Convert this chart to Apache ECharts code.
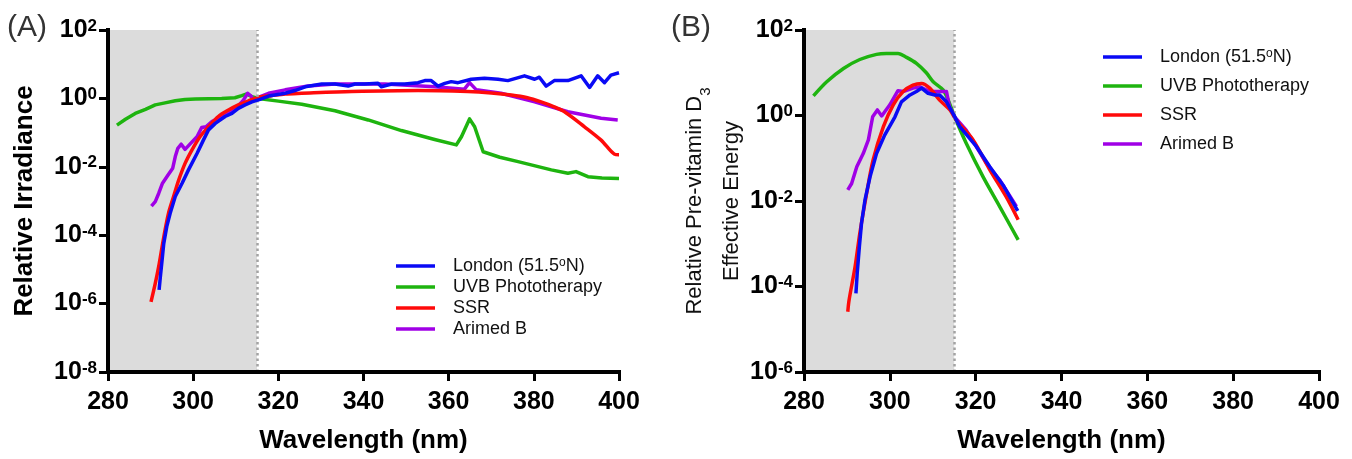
<!DOCTYPE html>
<html><head><meta charset="utf-8">
<script src="https://cdn.jsdelivr.net/npm/echarts@6/dist/echarts.min.js"></script>
<style>html,body{margin:0;padding:0;background:#fff}#c{width:1352px;height:459px}</style>
</head><body><div id="c"></div>
<script>
// ---------- DATA: [wavelength (nm), log10(relative value)] ----------
const seriesNames = ['London (51.5ºN)', 'UVB Phototherapy', 'SSR', 'Arimed B'];
const xTicks = [280, 300, 320, 340, 360, 380, 400];
const uvbBand = [280, 315];

// Panel A: Relative irradiance
const londonA = [[292.0,-5.60],[292.3,-5.21],[292.7,-4.73],[293.1,-4.24],[293.8,-3.75],[294.6,-3.36],[295.8,-2.87],[297.4,-2.48],[298.9,-2.09],[300.9,-1.61],[302.4,-1.22],[303.6,-0.92],[305.2,-0.73],[307.5,-0.53],[309.1,-0.44],[310.6,-0.29],[312.2,-0.19],[313.8,-0.10],[315.7,-0.03],[317.7,0.07],[321.6,0.15],[323.9,0.23],[326.3,0.34],[330.2,0.42],[333.3,0.42],[336.4,0.36],[338.0,0.42],[340.3,0.42],[343.4,0.44],[344.2,0.34],[346.6,0.42],[349.7,0.42],[352.8,0.46],[354.4,0.52],[355.9,0.52],[357.5,0.36],[359.1,0.44],[360.6,0.49],[362.2,0.46],[365.3,0.56],[368.4,0.59],[371.6,0.56],[373.9,0.52],[377.8,0.66],[380.2,0.56],[381.3,0.62],[382.9,0.36],[384.8,0.52],[388.0,0.52],[391.1,0.66],[393.1,0.32],[395.0,0.66],[396.6,0.46],[398.1,0.68],[400.0,0.75]];
const uvbA = [[282.1,-0.78],[284.1,-0.61],[286.4,-0.44],[288.8,-0.32],[291.1,-0.19],[293.4,-0.13],[295.8,-0.07],[298.1,-0.03],[300.5,-0.02],[303.6,-0.01],[306.7,0.0],[309.8,0.02],[311.4,0.08],[312.6,0.13],[313.8,0.05],[315.3,0.0],[320.0,-0.08],[325.5,-0.17],[333.3,-0.36],[341.1,-0.63],[348.9,-0.94],[356.7,-1.20],[361.8,-1.36],[363.0,-1.12],[364.9,-0.60],[366.1,-0.83],[368.1,-1.56],[372.0,-1.72],[376.3,-1.85],[384.1,-2.09],[388.0,-2.19],[389.9,-2.14],[392.7,-2.29],[396.0,-2.33],[400.0,-2.34]];
const ssrA = [[290.1,-5.95],[291.1,-5.41],[291.9,-4.92],[292.7,-4.34],[293.4,-3.85],[294.2,-3.36],[295.4,-2.87],[296.6,-2.39],[298.1,-1.90],[299.7,-1.51],[301.6,-1.12],[303.6,-0.83],[305.9,-0.53],[308.3,-0.34],[310.6,-0.19],[313.0,-0.07],[315.3,0.03],[318.4,0.08],[321.6,0.13],[325.5,0.15],[337.2,0.20],[352.8,0.23],[364.5,0.20],[370.0,0.16],[374.7,0.10],[378.5,0.02],[381.7,-0.10],[384.5,-0.23],[387.2,-0.39],[391.9,-0.83],[395.8,-1.22],[398.9,-1.63],[400.0,-1.65]];
const arimedA = [[290.2,-3.15],[291.1,-3.02],[291.9,-2.78],[292.8,-2.48],[294.1,-2.24],[295.2,-2.04],[295.8,-1.70],[296.4,-1.46],[297.2,-1.34],[298.1,-1.49],[299.3,-1.33],[300.9,-1.12],[302.0,-0.85],[303.0,-0.83],[304.4,-0.68],[305.9,-0.58],[307.5,-0.44],[309.1,-0.36],[310.6,-0.22],[311.8,-0.05],[312.8,0.15],[313.6,0.07],[314.1,-0.05],[315.3,0.03],[317.7,0.15],[321.6,0.25],[327.0,0.36],[333.3,0.42],[345.0,0.42],[356.7,0.34],[363.7,0.27],[364.9,0.46],[366.5,0.25],[372.3,0.15],[380.2,-0.10],[388.0,-0.39],[395.8,-0.58],[399.7,-0.63]];

// Panel B: Relative pre-vitamin D3 effective energy
const londonB = [[292.1,-4.16],[292.4,-3.69],[292.9,-3.07],[293.4,-2.52],[294.2,-1.98],[295.4,-1.43],[296.9,-0.89],[298.8,-0.46],[301.2,-0.03],[302.7,0.32],[304.7,0.48],[306.2,0.56],[307.4,0.64],[308.9,0.52],[310.5,0.48],[311.6,0.48],[313.2,0.32],[314.7,0.05],[316.3,-0.26],[320.2,-0.73],[323.3,-1.20],[326.4,-1.63],[329.8,-2.23]];
const uvbB = [[282.2,0.46],[285.3,0.79],[289.2,1.10],[293.0,1.31],[296.9,1.43],[299.2,1.45],[301.9,1.45],[303.9,1.36],[306.2,1.22],[308.5,1.00],[310.1,0.79],[312.4,0.60],[313.6,0.36],[315.1,-0.03],[317.8,-0.65],[321.7,-1.43],[325.6,-2.13],[329.9,-2.91]];
const ssrB = [[290.2,-4.59],[290.5,-4.32],[291.9,-3.54],[293.0,-2.76],[294.6,-1.82],[296.1,-1.04],[298.5,-0.26],[300.8,0.25],[303.1,0.56],[305.4,0.71],[307.4,0.75],[309.3,0.64],[311.6,0.36],[314.0,0.13],[315.5,-0.11],[319.4,-0.57],[323.3,-1.27],[327.1,-1.90],[329.9,-2.44]];
const arimedB = [[290.2,-1.74],[291.1,-1.59],[292.3,-1.20],[293.8,-0.89],[295.0,-0.57],[296.0,-0.03],[297.1,0.13],[298.1,-0.01],[300.0,0.25],[301.9,0.58],[303.1,0.56],[305.4,0.64],[307.0,0.67],[309.3,0.56],[311.2,0.56],[313.2,0.56],[313.9,0.21],[315.1,-0.03],[317.8,-0.34],[322.5,-1.12],[325.6,-1.51],[329.5,-2.13]];

// ---------- STYLE ----------
const FONT = '"Liberation Sans", Arial, Helvetica, sans-serif';
const colors = {'London (51.5ºN)': '#0a0af5', 'UVB Phototherapy': '#1eb40f', 'SSR': '#ff0a0a', 'Arimed B': '#a000e6'};

function toPts(arr) { return arr.map(p => [p[0], Math.pow(10, p[1])]); }
function mk(name, arr, gi, z, smooth) {
  return { type: 'line', name: name, xAxisIndex: gi, yAxisIndex: gi, data: toPts(arr),
    showSymbol: false, symbol: 'none', silent: true, animation: false, z: z, smooth: smooth || false,
    lineStyle: { color: colors[name], width: 3.5, join: 'round' }, itemStyle: { color: colors[name] } };
}
function shade(gi) {
  return { type: 'line', name: 'band' + gi, xAxisIndex: gi, yAxisIndex: gi, data: [], silent: true, animation: false, z: 1,
    markArea: { silent: true, itemStyle: { color: '#dcdcdc' }, data: [[{ xAxis: uvbBand[0] }, { xAxis: uvbBand[1] }]] },
    markLine: { silent: true, symbol: ['none', 'none'], label: { show: false },
      lineStyle: { color: '#a3a3a3', type: [2.5, 3], width: 2.5 }, data: [{ xAxis: uvbBand[1] }] } };
}
function xAx(gi) {
  return { gridIndex: gi, type: 'value', min: xTicks[0], max: xTicks[xTicks.length - 1], interval: 20, z: 10,
    axisLine: { show: true, lineStyle: { color: '#000', width: 4, cap: 'square' } },
    axisTick: { show: true, length: 9, lineStyle: { color: '#000', width: 3 } },
    axisLabel: { fontSize: 25, fontWeight: 'bold', color: '#000', fontFamily: FONT, margin: 18 },
    splitLine: { show: false },
    name: 'Wavelength (nm)', nameLocation: 'middle', nameGap: 56,
    nameTextStyle: { fontSize: 26, fontWeight: 'bold', color: '#000', fontFamily: FONT } };
}
function yAx(gi, min, name, gap, nameStyle) {
  return { gridIndex: gi, type: 'log', logBase: 10, min: min, max: 100, interval: 2, z: 10,
    axisLine: { show: true, lineStyle: { color: '#000', width: 4, cap: 'square' } },
    axisTick: { show: true, length: 9, lineStyle: { color: '#000', width: 3 } },
    minorTick: { show: false }, splitLine: { show: false },
    axisLabel: { margin: 11, formatter: v => '{b|10}{s|' + Math.round(Math.log10(v)) + '}',
      rich: { b: { fontSize: 25, fontWeight: 'bold', color: '#000', fontFamily: FONT },
              s: { fontSize: 17, fontWeight: 'bold', color: '#000', fontFamily: FONT, verticalAlign: 'top' } } },
    name: name, nameLocation: 'middle', nameGap: gap, nameTextStyle: nameStyle };
}
function legend(left, top, gap) {
  return { orient: 'vertical', left: left, top: top, padding: 0, itemGap: gap, itemWidth: 39, itemHeight: 3.5,
    icon: 'rect', selectedMode: false, data: seriesNames,
    formatter: n => n.indexOf('London') === 0 ? '{t|London (51.5}{u|o}{t|N)}' : '{t|' + n + '}',
    textStyle: { padding: [0, 0, 0, 13], rich: {
      t: { fontSize: 18, lineHeight: 18, color: '#111', fontFamily: FONT },
      u: { fontSize: 12, lineHeight: 12, color: '#111', fontFamily: FONT, verticalAlign: 'top' } } } };
}

const chart = echarts.init(document.getElementById('c'), null, { renderer: 'canvas' });
chart.setOption({
  animation: false,
  backgroundColor: '#fff',
  title: [
    { text: '(A)', left: 7, top: 13, padding: 0, textStyle: { fontSize: 30, fontWeight: 'normal', color: '#333', fontFamily: FONT } },
    { text: '(B)', left: 671, top: 13, padding: 0, textStyle: { fontSize: 30, fontWeight: 'normal', color: '#333', fontFamily: FONT } }
  ],
  grid: [
    { left: 108, top: 30, width: 511, height: 342, containLabel: false, outerBoundsMode: 'none' },
    { left: 804, top: 30, width: 515, height: 342, containLabel: false, outerBoundsMode: 'none' }
  ],
  legend: [legend(396, 257, 3), legend(1103, 48, 11)],
  xAxis: [xAx(0), xAx(1)],
  yAxis: [
    yAx(0, 1e-8, 'Relative Irradiance', 70, { fontSize: 26, fontWeight: 'bold', color: '#000', fontFamily: FONT }),
    yAx(1, 1e-6, '{a|Relative Pre-vitamin D}{sub|3}\n{a|Effective Energy}', 54,
      { rich: { a: { fontSize: 22, lineHeight: 37, color: '#111', fontFamily: FONT },
                sub: { fontSize: 15, lineHeight: 37, color: '#111', fontFamily: FONT, verticalAlign: 'bottom' } } })
  ],
  series: [
    shade(0),
    mk('UVB Phototherapy', uvbA, 0, 2), mk('Arimed B', arimedA, 0, 3), mk('SSR', ssrA, 0, 4, 0.3), mk('London (51.5ºN)', londonA, 0, 5),
    shade(1),
    mk('UVB Phototherapy', uvbB, 1, 2, 0.3), mk('Arimed B', arimedB, 1, 3), mk('SSR', ssrB, 1, 4, 0.3), mk('London (51.5ºN)', londonB, 1, 5)
  ]
});
</script></body></html>
